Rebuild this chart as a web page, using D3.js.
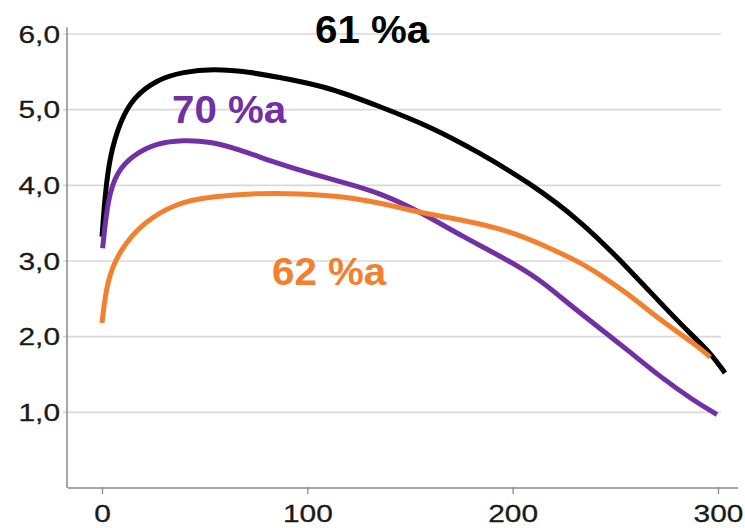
<!DOCTYPE html>
<html>
<head>
<meta charset="utf-8">
<script src="https://cdn.jsdelivr.net/npm/d3@7"></script>
<style>
  html, body { margin: 0; padding: 0; background: #fff; }
  svg { display: block; }
</style>
</head>
<body>
<svg id="chart" width="745" height="528"></svg>
<script>
// ---- data ----
const xTicks = [0, 100, 200, 300];
const yTicks = [1, 2, 3, 4, 5, 6];

const blackX = [0, 1.5, 3.9, 8.8, 15.1, 26.8, 39.4, 54, 72, 91.6, 111, 135.4, 159.7, 184, 208.4, 232.8, 255.7, 271.8, 287.9, 296.2, 303.4];
const blackY = [3.32, 3.88, 4.40, 4.84, 5.16, 5.40, 5.50, 5.54, 5.50, 5.40, 5.29, 5.04, 4.78, 4.43, 4.03, 3.54, 2.92, 2.45, 2.00, 1.79, 1.52];

const purpleX = [0.3, 2.9, 7.3, 15.1, 26.8, 39.4, 52.6, 67.2, 83.3, 99.8, 115.9, 135.4, 154.9, 175.8, 197.2, 213.3, 223, 239.1, 255.7, 271.8, 287.9, 299.5];
const purpleY = [3.17, 3.84, 4.18, 4.40, 4.56, 4.60, 4.58, 4.47, 4.31, 4.17, 4.05, 3.90, 3.65, 3.32, 3.02, 2.75, 2.53, 2.18, 1.83, 1.47, 1.16, 0.97];

const orangeX = [0, 2.4, 8.8, 20, 36.5, 52.6, 77, 96.4, 116, 135.4, 154.9, 175.8, 197.2, 216.7, 232.8, 239.1, 255.7, 271.8, 287.9, 296.2];
const orangeY = [2.18, 2.75, 3.15, 3.51, 3.77, 3.85, 3.90, 3.89, 3.86, 3.77, 3.64, 3.54, 3.41, 3.19, 2.98, 2.88, 2.58, 2.22, 1.92, 1.73];

const seriesNames = ["61 %a", "70 %a", "62 %a"];
const seriesColors = ["#000000", "#7131a4", "#f3802f"];

// ---- chart ----
const svg = d3.select("#chart");
const x = d3.scaleLinear().domain([0, 300]).range([102, 718]);
const y = d3.scaleLinear().domain([0, 6]).range([488, 34]);

const axisColor = "#8a8a8a";
const gridColor = "#d9d9d9";

// gridlines
svg.append("g").selectAll("line").data(yTicks).join("line")
  .attr("x1", 63).attr("x2", 721)
  .attr("y1", d => y(d)).attr("y2", d => y(d))
  .attr("stroke", gridColor).attr("stroke-width", 1.6);

// y axis line
svg.append("line")
  .attr("x1", 67).attr("x2", 67)
  .attr("y1", y(6.09)).attr("y2", y(0))
  .attr("stroke", axisColor).attr("stroke-width", 1.5);

// y tick labels
const sx = 1.22;
svg.append("g").selectAll("text").data(yTicks).join("text")
  .attr("transform", d => `translate(60,${y(d) + 8.8}) scale(${sx},1)`)
  .attr("text-anchor", "end")
  .attr("font-family", "Liberation Sans, Arial, sans-serif")
  .attr("font-size", 24.5)
  .attr("fill", "#1a1a1a")
  .attr("stroke", "#1a1a1a").attr("stroke-width", 0.3)
  .text(d => d3.format(".1f")(d).replace(".", ","));

// x axis
const xAxis = d3.axisBottom(x).tickValues(xTicks).tickSize(7).tickSizeOuter(0).tickFormat(d3.format("d"));
const gx = svg.append("g").attr("transform", "translate(0,487)").call(xAxis);
gx.select(".domain").remove();
gx.selectAll(".tick line").attr("stroke", axisColor).attr("stroke-width", 1.3);
gx.selectAll(".tick text")
  .attr("y", 0).attr("dy", 0)
  .attr("transform", `translate(0,34.5) scale(${sx},1)`)
  .attr("font-family", "Liberation Sans, Arial, sans-serif")
  .attr("font-size", 24.5)
  .attr("fill", "#1a1a1a")
  .attr("stroke", "#1a1a1a").attr("stroke-width", 0.3);
svg.append("line")
  .attr("x1", x(-16.6)).attr("x2", x(309.8))
  .attr("y1", 488).attr("y2", 488)
  .attr("stroke", axisColor).attr("stroke-width", 1.5);

// lines
const line = d3.line().x(d => x(d[0])).y(d => y(d[1])).curve(d3.curveBasis);
const blackData = d3.zip(blackX, blackY);
const purpleData = d3.zip(purpleX, purpleY);
const orangeData = d3.zip(orangeX, orangeY);

svg.append("path").datum(blackData).attr("d", line)
  .attr("fill", "none").attr("stroke", seriesColors[0]).attr("stroke-width", 5);
svg.append("path").datum(purpleData).attr("d", line)
  .attr("fill", "none").attr("stroke", seriesColors[1]).attr("stroke-width", 5);
svg.append("path").datum(orangeData).attr("d", line)
  .attr("fill", "none").attr("stroke", seriesColors[2]).attr("stroke-width", 5);

// labels
const labelPos = [[315, 43], [172, 123], [272, 285]];
svg.append("g").selectAll("text").data(seriesNames).join("text")
  .attr("transform", (d, i) => `translate(${labelPos[i][0]},${labelPos[i][1]}) scale(1.06,1)`)
  .attr("font-family", "Liberation Sans, Arial, sans-serif")
  .attr("font-weight", "bold")
  .attr("font-size", 38)
  .attr("fill", (d, i) => seriesColors[i])
  .text(d => d);
</script>
</body>
</html>
